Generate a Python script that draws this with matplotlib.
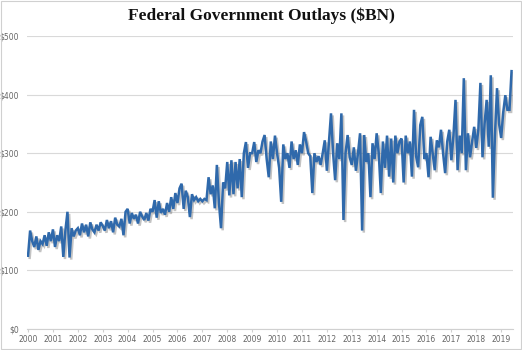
import matplotlib
matplotlib.use("Agg")
import matplotlib.pyplot as plt
import matplotlib.patheffects as pe
from matplotlib.patches import Rectangle

# monthly outlays ($BN), Jan 2000 onwards
y2000 = [125, 168, 150, 140, 158, 135, 150, 145, 160, 142, 165, 150]
y2001 = [170, 140, 160, 150, 175, 123, 168, 200, 122, 172, 158, 168]
y2002 = [172, 160, 180, 165, 178, 158, 182, 170, 165, 178, 168, 182]
y2003 = [176, 168, 186, 172, 184, 165, 190, 178, 175, 188, 160, 200]
y2004 = [205, 180, 198, 188, 195, 180, 200, 192, 186, 198, 185, 205]
y2005 = [200, 220, 190, 218, 198, 205, 195, 215, 200, 225, 205, 232]
y2006 = [215, 240, 248, 205, 236, 225, 191, 230, 220, 225, 218, 222]
y2007 = [218, 222, 220, 259, 230, 245, 206, 280, 215, 172, 250, 240]
y2008 = [285, 228, 288, 230, 285, 240, 290, 225, 300, 319, 275, 300]
y2009 = [300, 319, 285, 305, 300, 320, 331, 290, 259, 320, 290, 330]
y2010 = [300, 275, 217, 315, 290, 300, 275, 320, 290, 305, 280, 315]
y2011 = [300, 336, 320, 300, 295, 232, 300, 285, 295, 280, 300, 322]
y2012 = [270, 320, 368, 300, 254, 317, 290, 368, 186, 300, 331, 293]
y2013 = [280, 310, 270, 300, 334, 168, 331, 285, 300, 225, 317, 290]
y2014 = [334, 300, 232, 320, 275, 330, 260, 325, 250, 330, 300, 320]
y2015 = [325, 250, 330, 300, 320, 260, 374, 295, 276, 348, 362, 290]
y2016 = [300, 259, 328, 300, 271, 322, 310, 340, 300, 266, 320, 340]
y2017 = [288, 330, 391, 271, 330, 300, 428, 271, 334, 293, 320, 345]
y2018 = [309, 340, 420, 293, 350, 391, 311, 433, 224, 330, 411, 350]
y2019 = [326, 370, 399, 374, 374, 440]

outlays = (y2000 + y2001 + y2002 + y2003 + y2004 + y2005 + y2006 + y2007 +
           y2008 + y2009 + y2010 + y2011 + y2012 + y2013 + y2014 + y2015 +
           y2016 + y2017 + y2018 + y2019)
years = list(range(2000, 2020))
yticks = [0, 100, 200, 300, 400, 500]

fig = plt.figure(figsize=(5.22, 3.5), dpi=100)
ax = fig.add_axes([27 / 522, 21 / 350, 486 / 522, 293 / 350])

ax.plot(range(len(outlays)), outlays, color="#2f69ab", lw=1.8, solid_joinstyle="miter",
        path_effects=[pe.SimpleLineShadow(offset=(1.2, -1.5), shadow_color="#555555", alpha=0.35),
                      pe.Normal()], zorder=3)

ax.set_xlim(-0.5, 233.7)
ax.set_ylim(0, 500)
ax.set_yticks(yticks)
ax.set_yticklabels([f"${v}" for v in yticks])
ax.set_xticks([12 * k for k in range(len(years))])
ax.set_xticklabels([str(y) for y in years])
ax.grid(axis="y", color="#d9d9d9", lw=0.8, zorder=0)
for s in ["top", "right", "left"]:
    ax.spines[s].set_visible(False)
ax.spines["bottom"].set_color("#d0d0d0")
ax.tick_params(axis="y", length=0, labelsize=5.5, labelcolor="#666666", pad=6)
ax.tick_params(axis="x", length=2, color="#d0d0d0", labelsize=5.5, labelcolor="#666666", pad=2)

fig.text(0.5, 0.955, "Federal Government Outlays ($BN)", ha="center", va="center",
         fontsize=12.5, fontweight="bold", family="Liberation Serif", color="#111111")
fig.patches.append(Rectangle((0.002, 0.003), 0.996, 0.994, transform=fig.transFigure,
                             fill=False, edgecolor="#d0d0d0", lw=0.8))

fig.savefig("out.png", dpi=100)
